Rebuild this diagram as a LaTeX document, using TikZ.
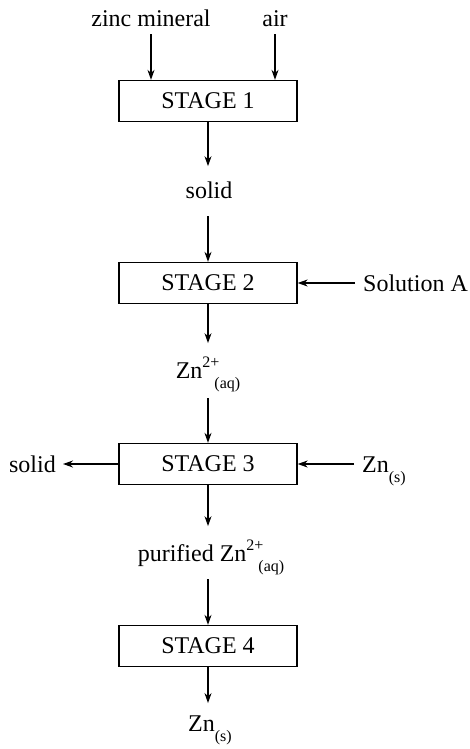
\documentclass[tikz,border=0pt]{standalone}
\usepackage{fontspec}
\setmainfont{Liberation Serif}
\usetikzlibrary{arrows.meta}
% raised and lowered index text for the chemical formulae
\newcommand{\sps}[1]{\raisebox{0.42em}{\fontsize{16}{16}\selectfont #1}}
\newcommand{\sbs}[1]{\raisebox{-0.45em}{\fontsize{16}{16}\selectfont #1}}
\begin{document}
\begin{tikzpicture}[x=1pt,y=-1pt,
  font=\fontsize{24}{28}\selectfont,
  stagebox/.style={draw, line width=1.3pt, minimum width=178pt, minimum height=41pt, inner sep=0pt},
  lbl/.style={inner sep=0pt, anchor=base},
  arr/.style={line width=1.3pt, -{Stealth[length=10pt,width=7pt]}}]
\useasboundingbox (0,0) rectangle (470,749);
% process stages
\node[stagebox] (s1) at (208,101) {STAGE 1};
\node[stagebox] (s2) at (208,283) {STAGE 2};
\node[stagebox] (s3) at (208,464) {STAGE 3};
\node[stagebox] (s4) at (208,646) {STAGE 4};
% inputs and products
\node[lbl] (zinc) at (151,27) {zinc mineral};
\node[lbl] (air) at (275,27) {air};
\node[lbl] (solid1) at (209,198) {solid};
\node[lbl] (zn2) at (208,378) {Zn\sps{2+}\kern-5pt\sbs{(aq)}};
\node[lbl, anchor=base west] (solA) at (363,291) {Solution A};
\node[lbl, anchor=base east] (solid3) at (56,472) {solid};
\node[lbl, anchor=base west] (znr) at (362,472) {Zn\sbs{(s)}};
\node[lbl] (pur) at (211,561) {purified Zn\sps{2+}\kern-5pt\sbs{(aq)}};
\node[lbl] (znb) at (210,731) {Zn\sbs{(s)}};
% connectors
\draw[arr, shorten <=7pt] (zinc.south) -- (zinc.south |- s1.north);
\draw[arr, shorten <=7pt] (air.south) -- (air.south |- s1.north);
\draw[arr, shorten >=15pt] (s1.south) -- (s1.south |- solid1.north);
\draw[arr, shorten <=18pt] (s2.north |- solid1.base) -- (s2.north);
\draw[arr, shorten >=14pt] (s2.south) -- (s2.south |- zn2.north);
\draw[arr, shorten <=20pt] (s3.north |- zn2.base) -- (s3.north);
\draw[arr, shorten <=8pt] (solA.west |- s2.east) -- (s2.east);
\draw[arr, shorten >=7pt] (s3.west) -- (s3.west -| solid3.east);
\draw[arr, shorten <=8pt] (znr.west |- s3.east) -- (s3.east);
\draw[arr, shorten >=14pt] (s3.south) -- (s3.south |- pur.north);
\draw[arr, shorten <=18pt] (s4.north |- pur.base) -- (s4.north);
\draw[arr, shorten >=12pt] (s4.south) -- (s4.south |- znb.north);
\end{tikzpicture}
\end{document}
